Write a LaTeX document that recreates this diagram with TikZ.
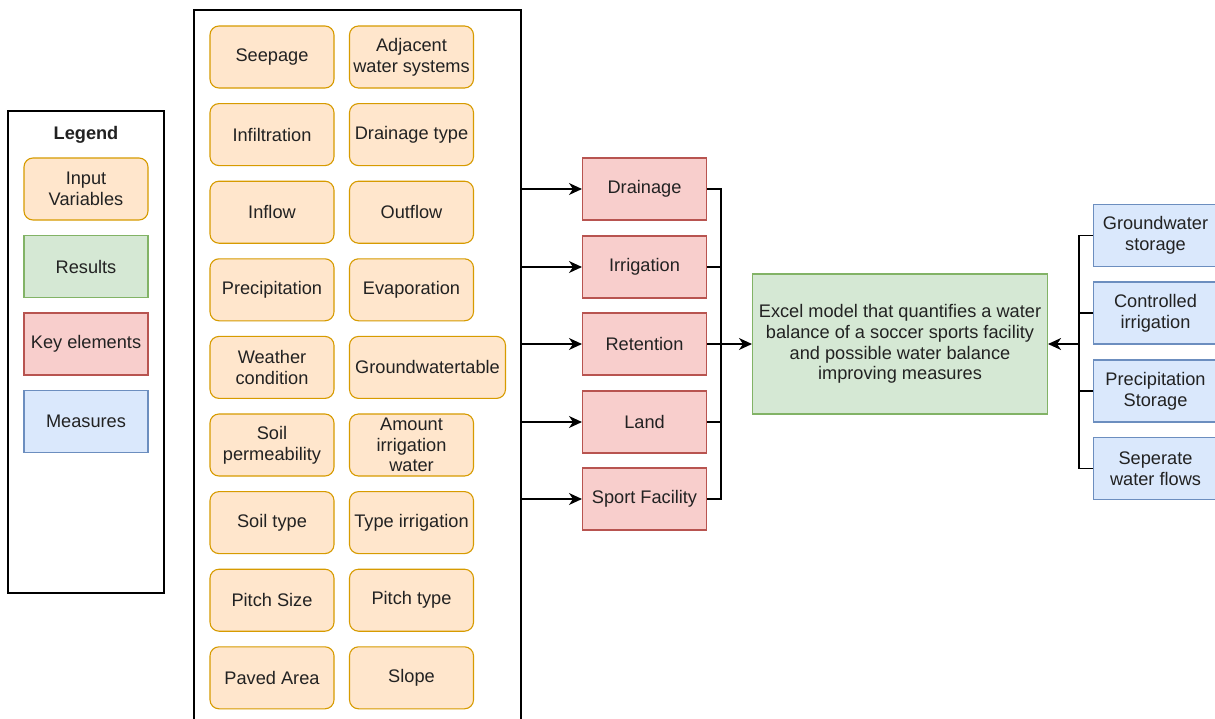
\documentclass[tikz,border=0pt]{standalone}
\usepackage{fontspec}
\setmainfont{Liberation Sans}
\usetikzlibrary{arrows.meta}
\definecolor{orF}{HTML}{FFE6CC}\definecolor{orS}{HTML}{D79B00}
\definecolor{grF}{HTML}{D5E8D4}\definecolor{grS}{HTML}{82B366}
\definecolor{reF}{HTML}{F8CECC}\definecolor{reS}{HTML}{B85450}
\definecolor{blF}{HTML}{DAE8FC}\definecolor{blS}{HTML}{6C8EBF}
\definecolor{txt}{HTML}{222222}
\newcommand\fsz{\fontsize{18.2}{20.8}\selectfont}
\tikzset{
  base/.style={minimum width=124pt, minimum height=62pt, inner sep=0pt, align=center, font=\fsz, text=txt, line width=1.1pt},
  inp/.style={base, draw=orS, fill=orF, rounded corners=9pt},
  res/.style={base, draw=grS, fill=grF},
  key/.style={base, draw=reS, fill=reF},
  mea/.style={base, draw=blS, fill=blF},
  frame/.style={draw=black, line width=1.1pt, inner sep=0pt},
  conn/.style={draw=black, line width=1.2pt},
  arr/.style={conn, -{Stealth[length=13pt,width=12pt,inset=4pt]}}
}
\begin{document}
\begin{tikzpicture}[x=1pt,y=-1pt]
\clip (0,0) rectangle (1215,718);
\fill[white] (0,0) rectangle (1215,718);
% legend
\node[frame, minimum width=156pt, minimum height=482pt] (legend) at (86,352) {};
\node[font=\fsz\bfseries, text=txt] (legtitle) at (86,135) {Legend};
\node[inp] (lin) at (86,189) {Input\\Variables};
\node[res] (lres) at (86,266.5) {Results};
\node[key] (lkey) at (86,344) {Key elements};
\node[mea] (lmea) at (86,421.5) {Measures};
% input variables frame
\node[frame, minimum width=327pt, minimum height=730pt] (big) at (357.5,375) {};
% column 1
\node[inp] (i1) at (272,57) {Seepage};
\node[inp] (i2) at (272,134.6) {Infiltration};
\node[inp] (i3) at (272,212.2) {Inflow};
\node[inp] (i4) at (272,289.8) {Precipitation};
\node[inp] (i5) at (272,367.4) {Weather\\condition};
\node[inp] (i6) at (272,445) {Soil\\permeability};
\node[inp] (i7) at (272,522.6) {Soil type};
\node[inp] (i8) at (272,600.2) {Pitch Size};
\node[inp] (i9) at (272,677.8) {Paved Area};
% column 2
\node[inp] (j1) at (411.5,57) {Adjacent\\water systems};
\node[inp] (j2) at (411.5,134.6) {Drainage type};
\node[inp] (j3) at (411.5,212.2) {Outflow};
\node[inp] (j4) at (411.5,289.8) {Evaporation};
\node[inp, minimum width=156pt] (j5) at (427.5,367.4) {Groundwatertable};
\node[inp] (j6) at (411.5,445) {Amount\\irrigation\\water};
\node[inp] (j7) at (411.5,522.6) {Type irrigation};
\node[inp] (j8) at (411.5,600.2) {Pitch type};
\node[inp] (j9) at (411.5,677.8) {Slope};
% key elements
\node[key] (k1) at (644.5,189) {Drainage};
\node[key] (k2) at (644.5,267) {Irrigation};
\node[key] (k3) at (644.5,344) {Retention};
\node[key] (k4) at (644.5,422) {Land};
\node[key] (k5) at (644.5,499) {Sport Facility};
% result
\node[res, minimum width=295pt, minimum height=140pt] (result) at (900,344) {Excel model that quantifies a water\\balance of a soccer sports facility\\and possible water balance\\improving measures};
% measures
\node[mea] (m1) at (1155.5,235.5) {Groundwater\\storage};
\node[mea] (m2) at (1155.5,313) {Controlled\\irrigation};
\node[mea] (m3) at (1155.5,391) {Precipitation\\Storage};
\node[mea] (m4) at (1155.5,468.5) {Seperate\\water flows};
% connectors
\foreach \k in {k1,k2,k3,k4,k5} {\draw[arr] (big.east |- \k) -- (\k);}
\coordinate (jk) at (721,344);
\foreach \k in {k1,k2,k3,k4,k5} {\draw[conn] (\k.east) -| (jk);}
\draw[arr] (jk) -- (result.west);
\coordinate (jm) at (1079,344);
\foreach \m in {m1,m2,m3,m4} {\draw[conn] (\m.west) -| (jm);}
\draw[arr] (jm) -- (result.east);
\end{tikzpicture}
\end{document}
